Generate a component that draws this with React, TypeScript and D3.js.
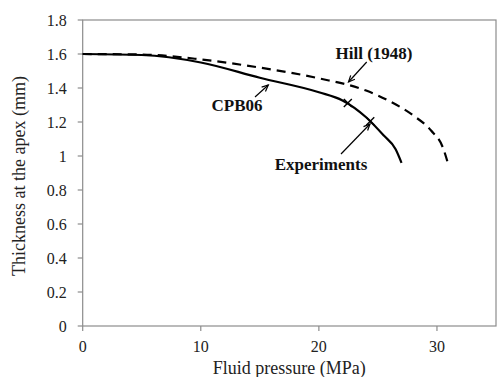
import React from "react";
import * as d3 from "d3";

const cpbX = [0, 5, 10, 15, 20, 22, 24, 25.5, 26.5, 27];
const cpbY = [1.6, 1.594, 1.55, 1.46, 1.375, 1.327, 1.228, 1.12, 1.04, 0.96];
const hillX = [0, 5, 10, 15, 20, 24, 26, 28, 29.5, 30.5, 31];
const hillY = [1.6, 1.597, 1.568, 1.52, 1.457, 1.385, 1.322, 1.238, 1.15, 1.05, 0.94];
const expX = [22.45, 24.35];
const expY = [1.312, 1.205];
const xTicks = [0, 10, 20, 30];
const yTicks = [0, 0.2, 0.4, 0.6, 0.8, 1, 1.2, 1.4, 1.6, 1.8];

const W = 497, H = 377;
const L = 82.7, R = 496, T = 20, B = 326;
const serif = "Liberation Serif, DejaVu Serif, Times New Roman, serif";
const axisColor = "#8c8c8c";

export default function App() {
  const x = d3.scaleLinear().domain([0, 35]).range([L, R]);
  const y = d3.scaleLinear().domain([0, 1.8]).range([B, T]);
  const mk = (xs: number[], ys: number[]) =>
    d3.line<number>().x((d) => x(d)).y((_, i) => y(ys[i])).curve(d3.curveMonotoneX)(xs) || "";

  const arrow = (x1: number, y1: number, x2: number, y2: number) => {
    const a = Math.atan2(y2 - y1, x2 - x1);
    const len = 7, sp = 0.42;
    const p1 = [x2 - len * Math.cos(a - sp), y2 - len * Math.sin(a - sp)];
    const p2 = [x2 - len * Math.cos(a + sp), y2 - len * Math.sin(a + sp)];
    return (
      <g stroke="#000" strokeWidth={1.2} fill="none">
        <line x1={x1} y1={y1} x2={x2} y2={y2} />
        <polyline points={`${p1[0]},${p1[1]} ${x2},${y2} ${p2[0]},${p2[1]}`} />
      </g>
    );
  };

  return (
    <svg width={W} height={H} style={{ position: "absolute", left: 0, top: 0, background: "#fff" }}>
      <rect x={0} y={0} width={W} height={H} fill="#fff" />
      <rect x={L} y={T} width={R - L} height={B - T} fill="none" stroke={axisColor} strokeWidth={1.2} />
      {yTicks.map((t) => (
        <g key={"y" + t}>
          <line x1={L - 5} x2={L} y1={y(t)} y2={y(t)} stroke={axisColor} strokeWidth={1.2} />
          <text x={L - 16} y={y(t) + 5.5} textAnchor="end" fontFamily={serif} fontSize={16} fill="#222">
            {String(t)}
          </text>
        </g>
      ))}
      {xTicks.map((t) => (
        <g key={"x" + t}>
          <line x1={x(t)} x2={x(t)} y1={B} y2={B + 5} stroke={axisColor} strokeWidth={1.2} />
          <text x={x(t)} y={352} textAnchor="middle" fontFamily={serif} fontSize={16} fill="#222">
            {String(t)}
          </text>
        </g>
      ))}
      <text x={(L + R) / 2} y={374} textAnchor="middle" fontFamily={serif} fontSize={18} fill="#222">
        Fluid pressure (MPa)
      </text>
      <text
        transform={`translate(25, ${(T + B) / 2 + 3}) rotate(-90)`}
        textAnchor="middle"
        fontFamily={serif}
        fontSize={18}
        fill="#222"
      >
        Thickness at the apex (mm)
      </text>
      <path d={mk(hillX, hillY)} fill="none" stroke="#000" strokeWidth={2.2} strokeDasharray="9 6" />
      <path d={mk(cpbX, cpbY)} fill="none" stroke="#000" strokeWidth={2.2} />
      {expX.map((v, i) => (
        <g key={"e" + i} stroke="#000" strokeWidth={1.4}>
          <line x1={x(v) - 4} y1={y(expY[i]) - 4} x2={x(v) + 4} y2={y(expY[i]) + 4} />
          <line x1={x(v) - 4} y1={y(expY[i]) + 4} x2={x(v) + 4} y2={y(expY[i]) - 4} />
        </g>
      ))}
      <text x={374} y={59} textAnchor="middle" fontFamily={serif} fontWeight="bold" fontSize={17} fill="#111">
        Hill (1948)
      </text>
      {arrow(366.7, 62, 348.5, 82)}
      <text x={237} y={111} textAnchor="middle" fontFamily={serif} fontWeight="bold" fontSize={17} fill="#111">
        CPB06
      </text>
      {arrow(255, 97, 268.3, 85)}
      <text x={321} y={170} textAnchor="middle" fontFamily={serif} fontWeight="bold" fontSize={17} fill="#111">
        Experiments
      </text>
      {arrow(341, 154, 370, 124)}
    </svg>
  );
}
